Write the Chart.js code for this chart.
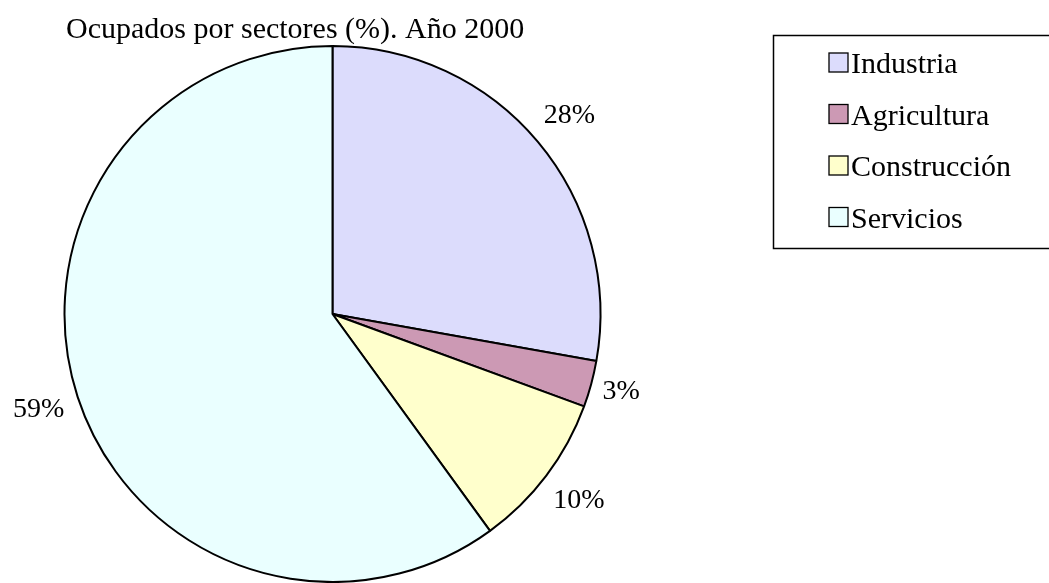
<!DOCTYPE html>
<html>
<head>
<meta charset="utf-8">
<script src="https://cdn.jsdelivr.net/npm/chart.js@4.4.0/dist/chart.umd.min.js"></script>
<style>
  html, body { margin: 0; padding: 0; background: #fff; }
  #wrap { width: 1049px; height: 583px; position: relative; }
</style>
</head>
<body>
<div id="wrap"><canvas id="c" width="1049" height="583"></canvas></div>
<script>
const chartTitle = "Ocupados por sectores (%). Año 2000";
const categories = ["Industria", "Agricultura", "Construcción", "Servicios"];
const shares = [27.8, 2.8, 9.4, 60.0];
const shareLabels = ["28%", "3%", "10%", "59%"];
const sliceColors = ["#dcdcfc", "#cc99b4", "#ffffcc", "#eaffff"];

const FONT = '"Liberation Serif", "DejaVu Serif", serif';
const labelDist = [41, 31, 41, 41];

const overlay = {
  id: 'overlay',
  afterDraw(chart) {
    const ctx = chart.ctx;
    ctx.save();
    // title
    ctx.fillStyle = '#000';
    ctx.font = '30px ' + FONT;
    ctx.textAlign = 'left';
    ctx.textBaseline = 'alphabetic';
    ctx.fillText(chartTitle, 66, 38);

    // percentage labels
    ctx.font = '28px ' + FONT;
    const meta = chart.getDatasetMeta(0);
    meta.data.forEach((arc, i) => {
      const mid = (arc.startAngle + arc.endAngle) / 2;
      const r = arc.outerRadius + labelDist[i];
      const x = arc.x + Math.cos(mid) * r;
      const y = arc.y + Math.sin(mid) * r;
      ctx.textAlign = 'center';
      ctx.textBaseline = 'middle';
      ctx.fillText(shareLabels[i], x, y);
    });

    // legend box
    ctx.font = '30px ' + FONT;
    ctx.lineWidth = 1.5;
    ctx.strokeStyle = '#000';
    ctx.strokeRect(773.5, 35.5, 300, 213);
    categories.forEach((name, i) => {
      const cy = 63 + i * 51.5;
      ctx.fillStyle = sliceColors[i];
      ctx.fillRect(829, cy - 10, 19, 19);
      ctx.lineWidth = 1.3;
      ctx.strokeRect(829, cy - 10, 19, 19);
      ctx.fillStyle = '#000';
      ctx.textAlign = 'left';
      ctx.textBaseline = 'alphabetic';
      ctx.fillText(name, 851, cy + 10);
    });
    ctx.restore();
  }
};

new Chart(document.getElementById('c'), {
  type: 'pie',
  data: {
    labels: categories,
    datasets: [{
      data: shares,
      backgroundColor: sliceColors,
      borderColor: '#000',
      borderWidth: 2,
      borderAlign: 'center'
    }]
  },
  options: {
    responsive: false,
    animation: false,
    layout: { padding: { left: 62, top: 45, right: 446, bottom: -2 } },
    plugins: {
      legend: { display: false },
      title: { display: false },
      tooltip: { enabled: false }
    }
  },
  plugins: [overlay]
});
</script>
</body>
</html>
